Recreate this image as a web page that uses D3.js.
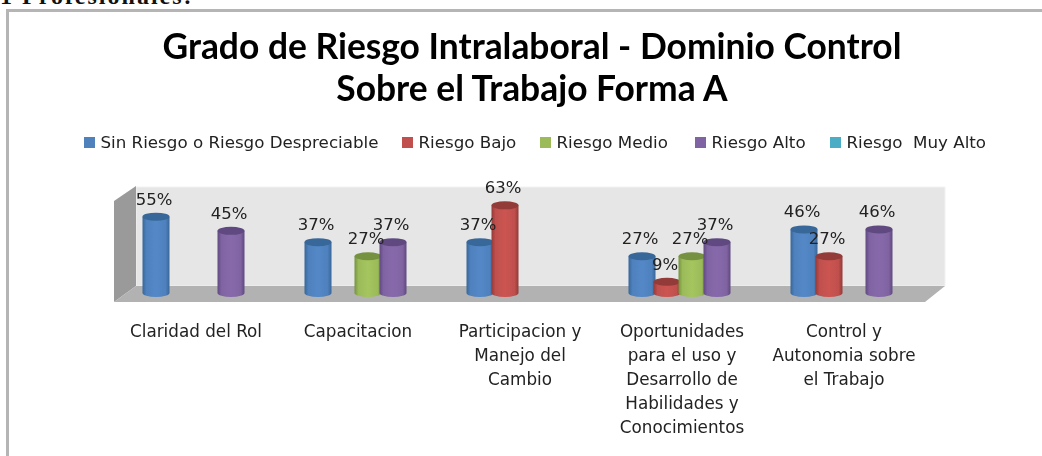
<!DOCTYPE html>
<html><head><meta charset="utf-8">
<script src="https://cdn.jsdelivr.net/npm/d3@7"></script>
<style>html,body{margin:0;padding:0;background:#fff}svg{display:block}</style>
</head><body><svg id="c" width="1042" height="456"></svg>
<script>
const categories = ["Claridad del Rol","Capacitacion","Participacion y Manejo del Cambio","Oportunidades para el uso y Desarrollo de Habilidades y Conocimientos","Control y Autonomia sobre el Trabajo"];
const categoryLines = [["Claridad del Rol"],["Capacitacion"],["Participacion y","Manejo del","Cambio"],["Oportunidades","para el uso y","Desarrollo de","Habilidades y","Conocimientos"],["Control y","Autonomia sobre","el Trabajo"]];
const seriesNames = ["Sin Riesgo o Riesgo Despreciable","Riesgo Bajo","Riesgo Medio","Riesgo Alto","Riesgo  Muy Alto"];
const sinRiesgo = [55,37,37,27,46];
const riesgoBajo = [null,null,63,9,27];
const riesgoMedio = [null,27,null,27,null];
const riesgoAlto = [45,37,null,37,46];
const riesgoMuyAlto = [null,null,null,null,null];
const seriesValues = [sinRiesgo,riesgoBajo,riesgoMedio,riesgoAlto,riesgoMuyAlto];
const colors = ["#4f81bd","#c0504d","#9bbb59","#8064a2","#4bacc6"];
const darks = ["#376799","#923a38","#76923f","#5f4a80","#2f8aa3"];
const titleLines = ["Grado de Riesgo Intralaboral - Dominio Control","Sobre el Trabajo Forma A"];

const svg = d3.select("#c");
const defs = svg.append("defs");
colors.forEach((c,i)=>{
  const g = defs.append("linearGradient").attr("id","g"+i);
  [[0,darks[i]],[.15,c],[.5,d3.color(c).brighter(.15)],[.85,c],[1,darks[i]]].forEach(([o,k])=>g.append("stop").attr("offset",o).attr("stop-color",k));
});
defs.append("filter").attr("id","soft").append("feGaussianBlur").attr("stdDeviation",.4);

// page context
svg.append("text").attr("x",0).attr("y",4).attr("font-family","Liberation Serif").attr("font-weight","bold").attr("font-size",24).attr("letter-spacing",2).attr("fill","#111").text("1 Profesionales:");
svg.append("path").attr("d","M7.5 456V10.5H1042").attr("fill","none").attr("stroke","#b5b5b5").attr("stroke-width",3);

const root = svg.append("g").attr("filter","url(#soft)");
const x = d3.scaleBand().domain(categories).range([115,925]);
const sx = d3.scalePoint().domain(seriesNames).range([-40,60]);
const y = d3.scaleLinear().domain([0,100]).range([294.5,153]);

// title
root.selectAll(".t").data(titleLines).join("text").attr("x",532).attr("y",(d,i)=>59+i*42)
  .attr("text-anchor","middle").attr("font-family","Lato").attr("font-weight","bold").attr("font-size",35.4).attr("fill","#000").text(d=>d);

// legend
const legendX = [84,402,540,695,830];
const leg = root.selectAll(".l").data(seriesNames).join("g").attr("transform",(d,i)=>`translate(${legendX[i]},0)`);
leg.append("rect").attr("y",137).attr("width",11).attr("height",11).attr("fill",(d,i)=>colors[i]);
leg.append("text").attr("x",16.5).attr("y",148).attr("font-family","DejaVu Sans").attr("font-size",16.7).attr("fill","#222").attr("xml:space","preserve").text(d=>d);

// 3D walls
root.append("polygon").attr("points","136,187 945,187 945,286 136,286").attr("fill","#e6e6e6").attr("stroke","#f2f2f2").attr("stroke-width",1);
root.append("polygon").attr("points","114,201 136,186 136,286 114,302").attr("fill","#9a9a9a");
root.append("polygon").attr("points","136,286 945,286 925,302 114,302").attr("fill","#b2b2b2");

// cylinders
const rx = 13.5, ry = 4;
const items = [];
categories.forEach((c,ci)=>seriesNames.forEach((s,si)=>{
  const v = seriesValues[si][ci];
  if(v!=null) items.push({c,s,si,v});
}));
const bars = root.selectAll(".b").data(items).join("g");
bars.append("path").attr("fill",d=>`url(#g${d.si})`).attr("d",d=>{
  const cx = x(d.c)+x.bandwidth()/2+sx(d.s), t=y(d.v), b=y(0)-1.5;
  return `M${cx-rx} ${t}V${b}A${rx} ${ry} 0 0 0 ${cx+rx} ${b}V${t}Z`;
});
bars.append("ellipse").attr("cx",d=>x(d.c)+x.bandwidth()/2+sx(d.s)).attr("cy",d=>y(d.v)).attr("rx",rx).attr("ry",ry).attr("fill",d=>darks[d.si]);

// data labels
root.selectAll(".v").data(items).join("text")
  .attr("x",d=>x(d.c)+x.bandwidth()/2+sx(d.s)-2).attr("y",d=>y(d.v)-12)
  .attr("text-anchor","middle").attr("font-family","DejaVu Sans").attr("font-size",16.5).attr("fill","#222").text(d=>d.v+"%");

// category labels
const cats = root.selectAll(".c").data(categories).join("text").attr("text-anchor","middle").attr("font-family","DejaVu Sans").attr("font-size",16.8).attr("fill","#222");
cats.each(function(d,i){
  d3.select(this).selectAll("tspan").data(categoryLines[i]).join("tspan").attr("x",x(d)+x.bandwidth()/2).attr("y",(l,j)=>337+j*24).text(l=>l);
});
</script></body></html>
